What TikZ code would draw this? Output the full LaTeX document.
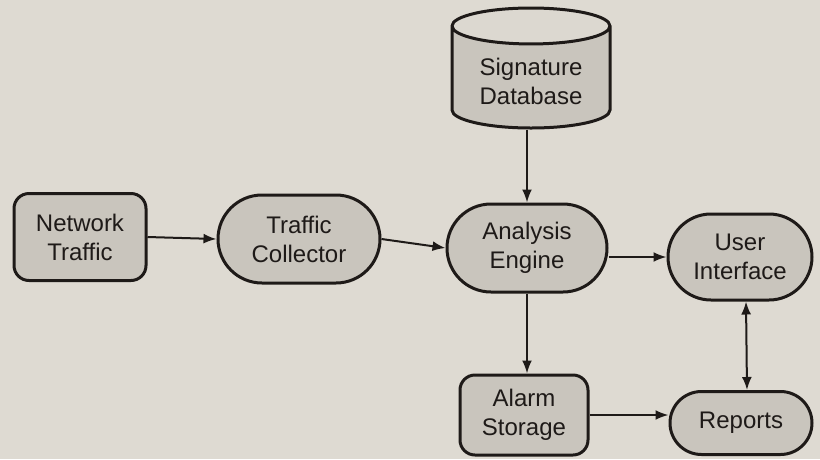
\documentclass[tikz,border=0pt]{standalone}
\usepackage{fontspec}
\setmainfont{Liberation Sans}
\usetikzlibrary{shapes.misc,shapes.geometric,arrows.meta}
\definecolor{paper}{HTML}{DEDAD2}
\definecolor{boxfill}{HTML}{C9C5BD}
\definecolor{capfill}{HTML}{DCD8D0}
\definecolor{ink}{HTML}{1E1A18}
\tikzset{
  x=1pt, y=-1pt,
  every node/.style={font=\fontsize{24}{29}\selectfont, text=ink, align=center},
  rbox/.style={draw=ink, line width=3pt, fill=boxfill, rounded corners=15pt, inner sep=0pt},
  pill/.style={draw=ink, line width=3pt, fill=boxfill, rounded rectangle, inner sep=0pt},
  dbase/.style={draw=ink, line width=3pt, cylinder, shape border rotate=90, aspect=0.35,
    cylinder uses custom fill, cylinder body fill=boxfill, cylinder end fill=capfill,
    inner sep=0pt, anchor=shape center},
  arr/.style={draw=ink, line width=2pt, -{Latex[length=13pt,width=10pt]}},
  arrboth/.style={draw=ink, line width=2pt, {Latex[length=13pt,width=10pt]}-{Latex[length=13pt,width=10pt]}}
}
\begin{document}
\begin{tikzpicture}
  \fill[paper] (0,0) rectangle (820,459);
  \useasboundingbox (0,0) rectangle (820,459);

  \node[rbox, minimum width=132pt, minimum height=87pt] (nt) at (80,237) {Network\\Traffic};
  \node[pill, minimum width=162pt, minimum height=88pt] (tc) at (299,239) {Traffic\\Collector};
  \node[pill, minimum width=160pt, minimum height=88pt] (ae) at (527,248) {Analysis\\Engine};
  \node[pill, minimum width=144pt, minimum height=86pt] (ui) at (740,257) {User\\Interface};
  \node[rbox, minimum width=128pt, minimum height=80pt] (as) at (524,415) {Alarm\\Storage};
  \node[pill, minimum width=142pt, minimum height=63pt] (rp) at (741,423) {Reports};
  % the barrel is sized by invisible text; the label sits lower, below the top cap
  \node[dbase, minimum width=158pt, minimum height=120pt] (db) at (531,68)
    {\phantom{Signature}\\\phantom{Database}};
  \node (dbt) at (531,81) {Signature\\Database};

  \draw[arr] (nt.east) -- (tc.west);
  \draw[arr] (tc.east) -- (ae.west);
  \draw[arr] (ae.east |- ui.west) -- (ui.west);
  \draw[arr] (db.bottom -| ae.north) -- (ae.north);
  \draw[arr] (ae.south) -- (ae.south |- as.north);
  \draw[arr] (as.east) -- (as.east -| rp.west);
  \draw[arrboth] ([xshift=6pt]rp.north) -- ([xshift=6pt]ui.south);
\end{tikzpicture}
\end{document}
